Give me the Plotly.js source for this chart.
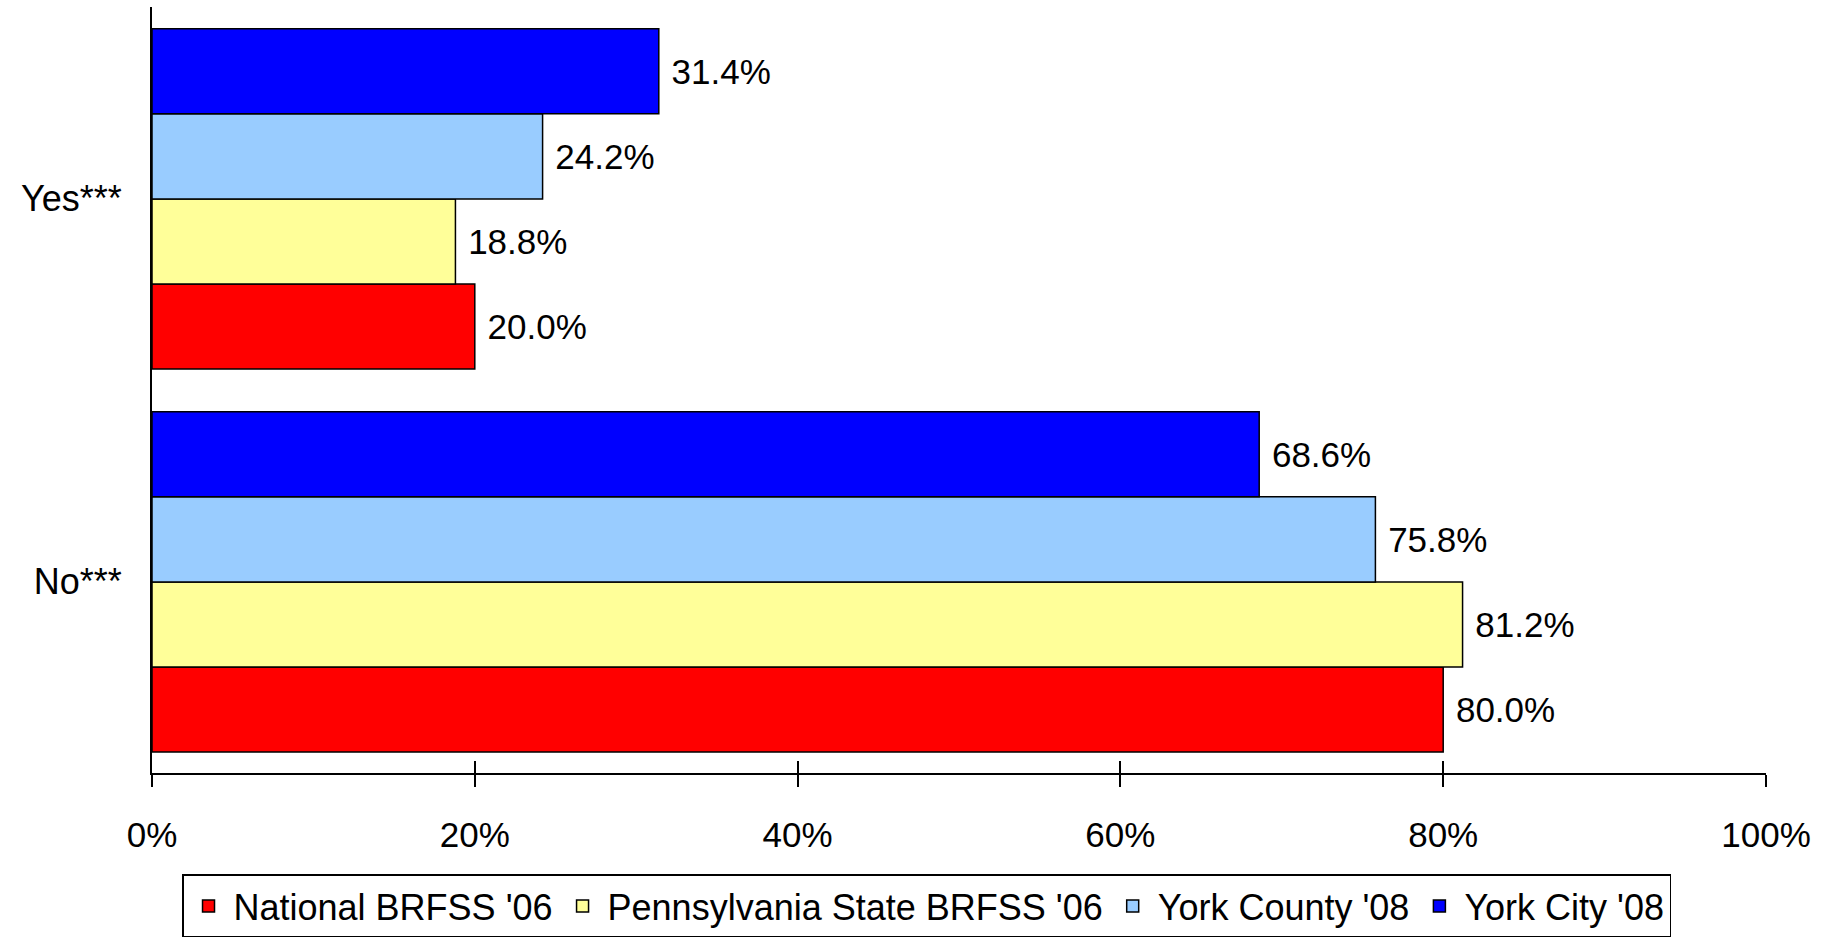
<!DOCTYPE html>
<html>
<head>
<meta charset="utf-8">
<script src="https://cdn.plot.ly/plotly-3.0.1.min.js"></script>
<style>html,body{margin:0;padding:0;background:#fff;}#chart{width:1835px;height:937px;}</style>
</head>
<body>
<div id="chart"></div>
<script>
const categories = ['Yes***', 'No***'];
const seriesNames = ["National BRFSS '06", "Pennsylvania State BRFSS '06", "York County '08", "York City '08"];
const national = [20.0, 80.0];
const pennsylvania = [18.8, 81.2];
const yorkCounty = [24.2, 75.8];
const yorkCity = [31.4, 68.6];
const tickValues = [0, 20, 40, 60, 80, 100];
const tickLabels = ['0%', '20%', '40%', '60%', '80%', '100%'];

const colors = ['#FF0000', '#FFFF99', '#99CCFF', '#0000FF'];
const FONT = 'Liberation Sans, Arial, sans-serif';
const seriesValues = [national, pennsylvania, yorkCounty, yorkCity];

const traces = seriesValues.map((vals, i) => ({
  type: 'bar',
  orientation: 'h',
  name: seriesNames[i],
  y: categories,
  x: vals,
  text: vals.map(v => '\u00a0' + v.toFixed(1) + '%'),
  textposition: 'outside',
  cliponaxis: false,
  textfont: {family: FONT, size: 35, color: '#000'},
  marker: {color: colors[i], line: {color: '#000', width: 1.5}},
  hoverinfo: 'skip'
}));

const layout = {
  width: 1835,
  height: 937,
  paper_bgcolor: '#fff',
  plot_bgcolor: '#fff',
  margin: {l: 152, r: 69, t: 7, b: 164, autoexpand: false},
  barmode: 'group',
  bargap: 0.112,
  bargroupgap: 0,
  font: {family: FONT, size: 35, color: '#000'},
  showlegend: true,
  legend: {
    orientation: 'h',
    x: 0.0186, xanchor: 'left',
    y: -0.1325, yanchor: 'top',
    traceorder: 'normal',
    bordercolor: '#000', borderwidth: 1.5,
    bgcolor: '#fff',
    itemwidth: 40,
    font: {family: FONT, size: 36, color: '#000'}
  },
  xaxis: {
    range: [0, 100],
    tickmode: 'array',
    tickvals: tickValues,
    ticktext: tickLabels,
    ticks: 'outside',
    ticklen: 12,
    tickwidth: 2,
    tickcolor: '#000',
    showline: true,
    linecolor: '#000',
    linewidth: 2,
    showgrid: false,
    zeroline: false,
    ticklabelstandoff: 18,
    tickfont: {family: FONT, size: 35, color: '#000'},
    automargin: false,
    fixedrange: true
  },
  xaxis2: {
    overlaying: 'x',
    anchor: 'y',
    side: 'bottom',
    range: [0, 100],
    tickmode: 'array',
    tickvals: tickValues,
    ticks: 'inside',
    ticklen: 12,
    tickwidth: 2,
    tickcolor: '#000',
    showticklabels: false,
    showline: false,
    showgrid: false,
    zeroline: false,
    fixedrange: true
  },
  yaxis: {
    type: 'category',
    categoryorder: 'array',
    categoryarray: ['No***', 'Yes***'],
    range: [-0.499, 1.501],
    showline: true,
    linecolor: '#000',
    linewidth: 2,
    ticks: '',
    showgrid: false,
    zeroline: false,
    ticklabelstandoff: 21,
    tickfont: {family: FONT, size: 36, color: '#000'},
    automargin: false,
    fixedrange: true
  }
};

// invisible helper trace so the overlaying axis is drawn
traces.push({type: 'scatter', x: [0], y: ['No***'], xaxis: 'x2', yaxis: 'y', mode: 'markers', marker: {opacity: 0}, showlegend: false, hoverinfo: 'skip'});

Plotly.newPlot('chart', traces, layout, {displayModeBar: false, staticPlot: true});
</script>
</body>
</html>
